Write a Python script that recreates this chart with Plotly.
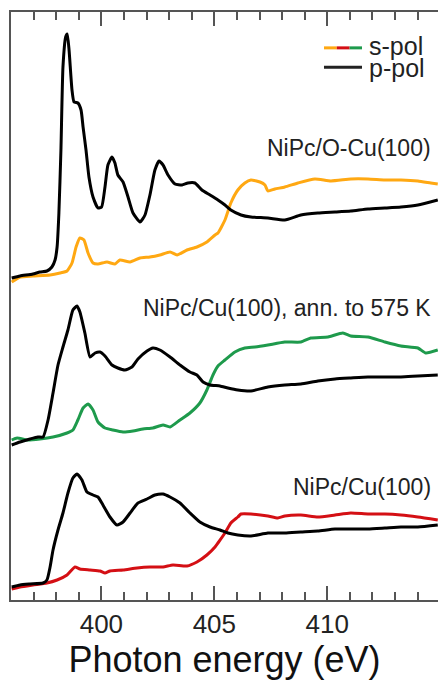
import plotly.graph_objects as go

# N K-edge NEXAFS of NiPc films, stacked with vertical offsets (arb. units)

# --- NiPc/O-Cu(100) ---
e_p_ocu = [396.03, 396.40, 396.97, 397.28, 397.59, 397.81, 397.95, 398.04, 398.12, 398.21,
           398.30, 398.42, 398.49, 398.57, 398.70, 398.79, 398.96, 399.10, 399.19, 399.32,
           399.45, 399.63, 399.85, 400.01, 400.16, 400.29, 400.47, 400.60, 400.73, 400.96,
           401.18, 401.40, 401.71, 401.93, 402.15, 402.37, 402.55, 402.73, 402.95, 403.26,
           403.57, 403.83, 404.14, 404.45, 404.81, 405.16, 405.47, 405.73, 406.18, 406.62,
           407.37, 408.12, 408.83, 409.58, 410.34, 411.04, 411.80, 412.55, 413.26, 414.01, 414.89]
i_p_ocu = [0.12, 0.14, 0.16, 0.18, 0.19, 0.23, 0.30, 0.43, 0.77, 1.40,
           2.23, 2.53, 2.56, 2.40, 2.00, 1.88, 1.87, 1.80, 1.63, 1.40,
           1.13, 0.93, 0.82, 0.83, 1.03, 1.25, 1.33, 1.27, 1.15, 1.08,
           0.93, 0.77, 0.68, 0.75, 0.95, 1.20, 1.29, 1.25, 1.15, 1.06,
           1.05, 1.07, 1.07, 1.00, 0.95, 0.90, 0.85, 0.80, 0.75, 0.73,
           0.72, 0.70, 0.75, 0.77, 0.78, 0.79, 0.81, 0.82, 0.83, 0.85, 0.90]
e_s_ocu = [396.03, 396.40, 396.97, 397.73, 398.17, 398.48, 398.70, 398.88, 399.05, 399.23,
           399.41, 399.63, 399.85, 400.25, 400.60, 400.82, 401.27, 401.71, 402.15, 402.59,
           403.04, 403.35, 403.79, 404.23, 404.67, 405.03, 405.16, 405.47, 405.73, 406.04,
           406.35, 406.62, 407.02, 407.24, 407.37, 407.68, 408.12, 408.70, 409.45, 410.16,
           411.04, 411.80, 412.55, 413.26, 414.01, 414.58, 414.89]
i_s_ocu = [0.08, 0.13, 0.14, 0.15, 0.17, 0.19, 0.27, 0.43, 0.52, 0.50,
           0.37, 0.27, 0.26, 0.28, 0.26, 0.30, 0.28, 0.32, 0.33, 0.35,
           0.38, 0.35, 0.40, 0.43, 0.48, 0.55, 0.57, 0.70, 0.87, 1.00,
           1.07, 1.10, 1.08, 1.05, 0.99, 1.01, 1.03, 1.07, 1.11, 1.09,
           1.11, 1.11, 1.10, 1.10, 1.09, 1.07, 1.06]

# --- NiPc/Cu(100), annealed to 575 K ---
e_p_ann = [396.03, 396.40, 396.84, 397.19, 397.42, 397.64, 397.86, 398.08, 398.30, 398.52,
           398.74, 398.92, 399.05, 399.27, 399.50, 399.72, 399.94, 400.16, 400.47, 400.73,
           401.04, 401.35, 401.62, 402.02, 402.28, 402.59, 403.04, 403.48, 403.92, 404.23,
           404.50, 404.81, 405.25, 405.60, 406.04, 406.62, 407.37, 408.12, 408.83, 409.58,
           410.34, 411.04, 411.80, 412.55, 413.26, 414.01, 414.89]
i_p_ann = [0.05, 0.08, 0.11, 0.13, 0.13, 0.30, 0.57, 0.85, 1.03, 1.20,
           1.40, 1.44, 1.38, 1.17, 0.93, 0.97, 0.98, 0.94, 0.85, 0.82,
           0.80, 0.83, 0.91, 0.99, 1.02, 1.00, 0.93, 0.85, 0.78, 0.75,
           0.68, 0.65, 0.64, 0.62, 0.60, 0.59, 0.63, 0.65, 0.66, 0.69,
           0.71, 0.72, 0.73, 0.73, 0.73, 0.74, 0.75]
e_s_ann = [396.03, 396.27, 396.71, 397.28, 397.86, 398.48, 398.74, 398.96, 399.19, 399.41,
           399.63, 399.85, 400.16, 400.51, 400.96, 401.40, 401.84, 402.28, 402.73, 403.04,
           403.48, 403.92, 404.36, 404.67, 404.94, 405.16, 405.47, 405.91, 406.35, 406.80,
           407.37, 408.12, 408.83, 409.27, 410.03, 410.69, 411.04, 411.80, 412.55, 413.26,
           414.01, 414.36, 414.89]
i_s_ann = [0.10, 0.12, 0.10, 0.11, 0.13, 0.17, 0.20, 0.30, 0.42, 0.46,
           0.40, 0.28, 0.22, 0.20, 0.18, 0.19, 0.21, 0.22, 0.25, 0.23,
           0.30, 0.37, 0.47, 0.60, 0.75, 0.84, 0.90, 0.98, 1.02, 1.03,
           1.05, 1.08, 1.08, 1.12, 1.13, 1.17, 1.14, 1.13, 1.08, 1.04,
           1.02, 0.97, 1.00]

# --- NiPc/Cu(100) ---
e_p_cu = [396.03, 396.40, 396.84, 397.42, 397.59, 397.73, 397.86, 398.08, 398.30, 398.52,
          398.74, 398.92, 399.14, 399.36, 399.63, 399.85, 400.07, 400.38, 400.69, 400.96,
          401.27, 401.62, 402.02, 402.37, 402.73, 403.04, 403.48, 403.92, 404.36, 404.81,
          405.25, 405.60, 406.04, 406.62, 407.37, 408.12, 408.83, 409.58, 410.34, 411.04,
          411.80, 412.55, 413.26, 414.01, 414.89]
i_p_cu = [0.13, 0.15, 0.16, 0.17, 0.20, 0.33, 0.50, 0.70, 0.87, 1.07,
          1.22, 1.26, 1.20, 1.08, 1.05, 1.03, 0.95, 0.83, 0.75, 0.78,
          0.87, 0.97, 1.01, 1.05, 1.06, 1.03, 0.97, 0.87, 0.78, 0.73,
          0.70, 0.67, 0.65, 0.64, 0.67, 0.67, 0.68, 0.69, 0.71, 0.71,
          0.71, 0.72, 0.73, 0.73, 0.75]
e_s_cu = [396.03, 396.40, 396.97, 397.59, 398.04, 398.48, 398.83, 399.05, 399.50, 399.94,
          400.16, 400.38, 400.96, 401.58, 402.15, 402.73, 403.17, 403.79, 404.23, 404.67,
          405.03, 405.16, 405.47, 405.73, 406.04, 406.18, 406.62, 407.37, 407.81, 408.12,
          408.83, 409.58, 410.34, 411.04, 411.80, 412.55, 413.26, 414.01, 414.89]
i_s_cu = [0.11, 0.13, 0.15, 0.17, 0.20, 0.25, 0.33, 0.31, 0.30, 0.29,
          0.27, 0.29, 0.30, 0.32, 0.33, 0.33, 0.35, 0.34, 0.38, 0.45,
          0.53, 0.57, 0.67, 0.77, 0.83, 0.86, 0.86, 0.84, 0.82, 0.84,
          0.85, 0.83, 0.85, 0.87, 0.86, 0.86, 0.85, 0.83, 0.80]

labels = ["NiPc/O-Cu(100)", "NiPc/Cu(100), ann. to 575 K", "NiPc/Cu(100)"]
offsets = [3.1, 1.5, 0.0]
s_colors = ["#FFA812", "#1E9A4C", "#D40F14"]
p_color = "#000000"

spectra = [
    (e_s_ocu, i_s_ocu, e_p_ocu, i_p_ocu),
    (e_s_ann, i_s_ann, e_p_ann, i_p_ann),
    (e_s_cu, i_s_cu, e_p_cu, i_p_cu),
]

fig = go.Figure()
for (es, is_, ep, ip), off, sc in zip(spectra, offsets, s_colors):
    fig.add_trace(go.Scatter(x=es, y=[v + off for v in is_], mode="lines",
                             line=dict(color=sc, width=3, shape="spline", smoothing=0.5),
                             showlegend=False))
    fig.add_trace(go.Scatter(x=ep, y=[v + off for v in ip], mode="lines",
                             line=dict(color=p_color, width=3, shape="spline", smoothing=0.5),
                             showlegend=False))

# sample labels, right-aligned above each spectrum
label_y = [4.52, 2.92, 1.13]
for text, ly in zip(labels, label_y):
    fig.add_annotation(x=0.988, xref="paper", y=ly, yref="y", text=text,
                       showarrow=False, xanchor="right", yanchor="middle",
                       font=dict(size=23, color="#222222"))

# hand-built key: three-colour s-pol sample and black p-pol sample
seg = [(0.733, 0.763, "#FFA812"), (0.763, 0.793, "#D40F14"), (0.793, 0.822, "#1E9A4C")]
for x0, x1, c in seg:
    fig.add_shape(type="line", xref="paper", yref="paper", x0=x0, x1=x1,
                  y0=0.939, y1=0.939, line=dict(color=c, width=3))
fig.add_shape(type="line", xref="paper", yref="paper", x0=0.733, x1=0.822,
              y0=0.906, y1=0.906, line=dict(color="#222222", width=3))
fig.add_annotation(x=0.834, xref="paper", y=0.942, yref="paper", text="s-pol",
                   showarrow=False, xanchor="left", yanchor="middle",
                   font=dict(size=25, color="#222222"))
fig.add_annotation(x=0.834, xref="paper", y=0.905, yref="paper", text="p-pol",
                   showarrow=False, xanchor="left", yanchor="middle",
                   font=dict(size=25, color="#222222"))

fig.update_layout(
    width=438, height=685,
    margin=dict(l=11, r=0, t=12, b=85),
    paper_bgcolor="white", plot_bgcolor="white",
    font=dict(family="Liberation Sans, Arial, sans-serif", color="#222222"),
    showlegend=False,
)
fig.update_xaxes(
    range=[396.0, 414.9], showgrid=False, zeroline=False,
    showline=True, linecolor="#555555", linewidth=1.5, mirror="ticks",
    ticks="inside", ticklen=14, tickwidth=1.5, tickcolor="#555555",
    dtick=5, tick0=400, tickfont=dict(size=26, color="#222222"),
    minor=dict(ticks="inside", ticklen=8, tickwidth=1.5, tickcolor="#555555", dtick=1, showgrid=False),
    title=dict(text="Photon energy (eV)", font=dict(size=36, color="#111111"), standoff=4),
)
fig.update_yaxes(
    range=[0, 5.88], showgrid=False, zeroline=False, showticklabels=False,
    showline=True, linecolor="#555555", linewidth=1.5, ticks="",
)

fig.write_html("out.html")
